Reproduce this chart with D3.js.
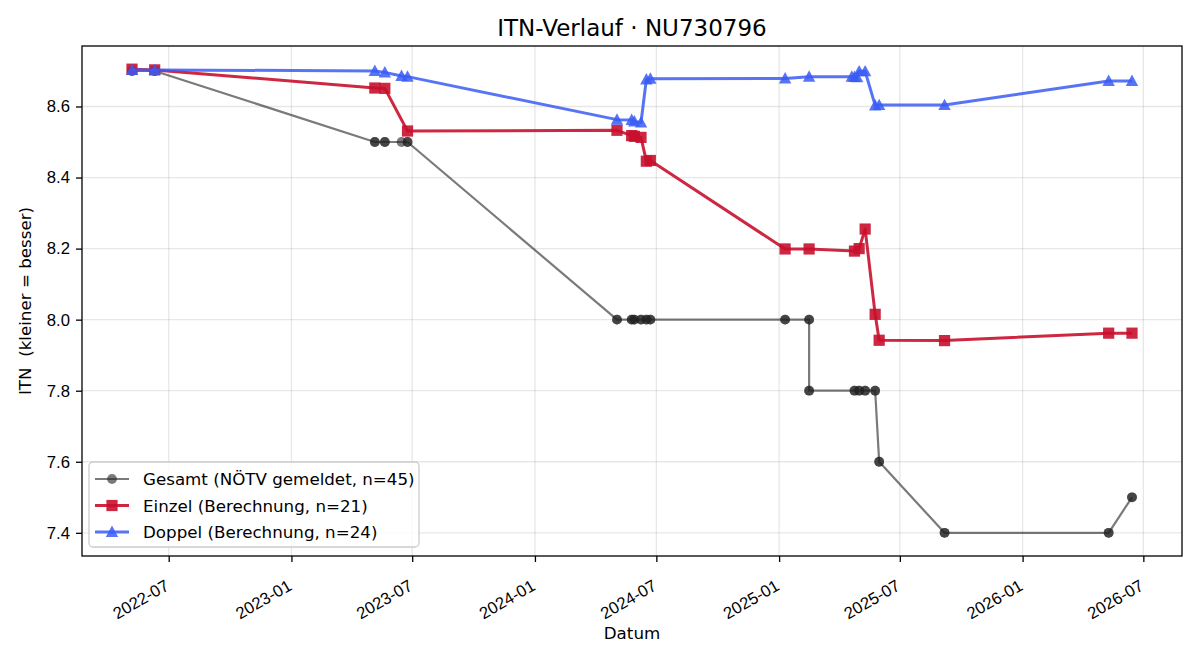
<!DOCTYPE html>
<html>
<head>
<meta charset="utf-8">
<script src="https://cdn.jsdelivr.net/npm/d3@7"></script>
<style>
    body { margin: 0; background: #fff; }
    svg { font-family: "DejaVu Sans", sans-serif; }
    .tick text { fill: #000; }
</style>
</head>
<body>
<svg id="vis" width="1200" height="660"></svg>
<script>
// ITN history chart, three series over time

const gesamtDates = [
    "2022-05-07", "2022-05-07", "2022-06-10", "2022-06-10",
    "2023-05-06", "2023-05-06", "2023-05-21", "2023-05-21", "2023-06-15", "2023-06-24", "2023-06-24",
    "2024-05-03", "2024-05-03", "2024-05-25", "2024-05-25", "2024-05-29", "2024-05-29",
    "2024-06-08", "2024-06-08", "2024-06-16", "2024-06-16", "2024-06-22", "2024-06-22",
    "2025-01-10", "2025-01-10", "2025-02-15", "2025-02-15", "2025-02-15", "2025-02-15",
    "2025-04-24", "2025-04-24", "2025-05-01", "2025-05-01",
    "2025-05-10", "2025-05-10", "2025-05-25", "2025-05-25", "2025-05-31", "2025-05-31",
    "2025-09-06", "2025-09-06", "2026-05-10", "2026-05-10", "2026-06-14", "2026-06-14"
];
const gesamtITN = [
    8.7, 8.7, 8.7, 8.7,
    8.5, 8.5, 8.5, 8.5, 8.5, 8.5, 8.5,
    8.0, 8.0, 8.0, 8.0, 8.0, 8.0,
    8.0, 8.0, 8.0, 8.0, 8.0, 8.0,
    8.0, 8.0, 8.0, 8.0, 7.8, 7.8,
    7.8, 7.8, 7.8, 7.8,
    7.8, 7.8, 7.8, 7.8, 7.6, 7.6,
    7.4, 7.4, 7.4, 7.4, 7.5, 7.5
];

const einzelDates = [
    "2022-05-07", "2022-06-10", "2023-05-06", "2023-05-21", "2023-06-24",
    "2024-05-03", "2024-05-25", "2024-05-29", "2024-06-08", "2024-06-16", "2024-06-22",
    "2025-01-10", "2025-02-15", "2025-04-24", "2025-05-01", "2025-05-10",
    "2025-05-25", "2025-05-31", "2025-09-06", "2026-05-10", "2026-06-14"
];
const einzelITN = [
    8.705, 8.703, 8.652, 8.651, 8.531,
    8.533, 8.518, 8.516, 8.513, 8.446, 8.448,
    8.199, 8.199, 8.193, 8.200, 8.255,
    8.015, 7.942, 7.941, 7.962, 7.962
];

const doppelDates = [
    "2022-05-07", "2022-06-10", "2023-05-06", "2023-05-21", "2023-06-15", "2023-06-24",
    "2024-05-03", "2024-05-25", "2024-05-29", "2024-06-08", "2024-06-16", "2024-06-22",
    "2025-01-10", "2025-02-15", "2025-04-20", "2025-04-24", "2025-04-28", "2025-05-01",
    "2025-05-10", "2025-05-25", "2025-05-31", "2025-09-06", "2026-05-10", "2026-06-14"
];
const doppelITN = [
    8.703, 8.703, 8.700, 8.696, 8.686, 8.684,
    8.563, 8.562, 8.558, 8.555, 8.676, 8.678,
    8.679, 8.684, 8.684, 8.683, 8.682, 8.699,
    8.699, 8.603, 8.604, 8.604, 8.672, 8.672
];

const yTicks = [7.4, 7.6, 7.8, 8.0, 8.2, 8.4, 8.6];
const seriesNames = [
    "Gesamt (NÖTV gemeldet, n=45)",
    "Einzel (Berechnung, n=21)",
    "Doppel (Berechnung, n=24)"
];

const parseDate = d3.utcParse("%Y-%m-%d");

function zipSeries(dates, values) {
    return dates.map(function (d, i) {
        return { date: parseDate(d), value: values[i] };
    });
}

const series = [
    { name: seriesNames[0], data: zipSeries(gesamtDates, gesamtITN), color: "#222222", alpha: 0.6, width: 2.2, marker: "circle" },
    { name: seriesNames[1], data: zipSeries(einzelDates, einzelITN), color: "#c8102e", alpha: 0.9, width: 3, marker: "square" },
    { name: seriesNames[2], data: zipSeries(doppelDates, doppelITN), color: "#3a5cf5", alpha: 0.85, width: 3, marker: "triangle" }
];

const svg = d3.select("#vis");
const margin = { left: 82, right: 18, top: 46, bottom: 104 };
const WIDTH = 1200, HEIGHT = 660;
const plotW = WIDTH - margin.left - margin.right;
const plotH = HEIGHT - margin.top - margin.bottom;

// domains padded 5% like matplotlib
const allPoints = series.flatMap(function (s) { return s.data; });
const xExt = d3.extent(allPoints, function (d) { return +d.date; });
const yExt = d3.extent(allPoints, function (d) { return d.value; });
const xPad = (xExt[1] - xExt[0]) * 0.05;
const yPad = (yExt[1] - yExt[0]) * 0.05;

const x = d3.scaleUtc()
    .domain([new Date(xExt[0] - xPad), new Date(xExt[1] + xPad)])
    .range([0, plotW]);
const y = d3.scaleLinear()
    .domain([yExt[0] - yPad, yExt[1] + yPad])
    .range([plotH, 0]);

const g = svg.append("g")
    .attr("transform", "translate(" + margin.left + "," + margin.top + ")");

const xTicks = x.ticks(d3.utcMonth.every(6));

// grid
g.append("g").selectAll("line")
    .data(xTicks)
    .enter().append("line")
    .attr("x1", function (d) { return x(d); })
    .attr("x2", function (d) { return x(d); })
    .attr("y1", 0).attr("y2", plotH)
    .attr("stroke", "#b0b0b0").attr("stroke-opacity", 0.3).attr("stroke-width", 1.3);
g.append("g").selectAll("line")
    .data(yTicks)
    .enter().append("line")
    .attr("y1", function (d) { return y(d); })
    .attr("y2", function (d) { return y(d); })
    .attr("x1", 0).attr("x2", plotW)
    .attr("stroke", "#b0b0b0").attr("stroke-opacity", 0.3).attr("stroke-width", 1.3);

// axes
const xAxis = g.append("g")
    .attr("transform", "translate(0," + plotH + ")")
    .call(d3.axisBottom(x).tickValues(xTicks).tickFormat(d3.utcFormat("%Y-%m")).tickSizeOuter(0).tickSize(6).tickPadding(0));
xAxis.select(".domain").remove();
xAxis.selectAll(".tick line").attr("stroke", "#000").attr("stroke-width", 1.3);
xAxis.selectAll(".tick text")
    .attr("font-size", "16.7px")
    .attr("text-anchor", "end")
    .attr("dy", null)
    .attr("y", null)
    .attr("transform", "translate(1,33) rotate(-30)");

const yAxis = g.append("g")
    .call(d3.axisLeft(y).tickValues(yTicks).tickFormat(d3.format(".1f")).tickSizeOuter(0).tickSize(6).tickPadding(6));
yAxis.select(".domain").remove();
yAxis.selectAll(".tick line").attr("stroke", "#000").attr("stroke-width", 1.3);
yAxis.selectAll(".tick text").attr("font-size", "16.7px");

// frame
g.append("rect")
    .attr("width", plotW).attr("height", plotH)
    .attr("fill", "none").attr("stroke", "#000").attr("stroke-width", 1.3);

// clip for marks
svg.append("defs").append("clipPath").attr("id", "clip")
    .append("rect").attr("width", plotW).attr("height", plotH);

const marks = g.append("g").attr("clip-path", "url(#clip)");

function markerPath(kind) {
    if (kind === "square") return "M-5.6,-5.6H5.6V5.6H-5.6Z";
    if (kind === "triangle") return "M0,-6.4L6.2,5L-6.2,5Z";
    return d3.symbol().type(d3.symbolCircle).size(Math.PI * 4.9 * 4.9)();
}

const line = d3.line()
    .x(function (d) { return x(d.date); })
    .y(function (d) { return y(d.value); });

series.forEach(function (s) {
    const sg = marks.append("g");
    sg.append("path")
        .datum(s.data)
        .attr("d", line)
        .attr("fill", "none")
        .attr("stroke", s.color)
        .attr("stroke-opacity", s.alpha)
        .attr("stroke-width", s.width)
        .attr("stroke-linejoin", "round");
    sg.selectAll(".pt")
        .data(s.data)
        .enter().append("path")
        .attr("class", "pt")
        .attr("d", markerPath(s.marker))
        .attr("transform", function (d) { return "translate(" + x(d.date) + "," + y(d.value) + ")"; })
        .attr("fill", s.color)
        .attr("opacity", s.alpha);
});

// title and labels
svg.append("text")
    .attr("x", margin.left + plotW / 2).attr("y", 36)
    .attr("text-anchor", "middle").attr("font-size", "23px")
    .text("ITN-Verlauf · NU730796");

svg.append("text")
    .attr("x", margin.left + plotW / 2).attr("y", 639)
    .attr("text-anchor", "middle").attr("font-size", "16.7px")
    .text("Datum");

svg.append("text")
    .attr("transform", "translate(31," + (margin.top + plotH / 2) + ") rotate(-90)")
    .attr("text-anchor", "middle").attr("font-size", "16.7px")
    .style("white-space", "pre")
    .text("ITN  (kleiner = besser)");

// legend
const legend = g.append("g").attr("transform", "translate(7," + (plotH - 94) + ")");
legend.append("rect")
    .attr("width", 330).attr("height", 85).attr("rx", 4)
    .attr("fill", "#fff").attr("fill-opacity", 0.8)
    .attr("stroke", "#cccccc").attr("stroke-width", 1.3);

series.forEach(function (s, i) {
    const row = legend.append("g").attr("transform", "translate(0," + (17 + i * 26.5) + ")");
    row.append("line")
        .attr("x1", 6).attr("x2", 40)
        .attr("stroke", s.color).attr("stroke-opacity", s.alpha)
        .attr("stroke-width", s.width);
    row.append("path")
        .attr("d", markerPath(s.marker))
        .attr("transform", "translate(23,0)")
        .attr("fill", s.color).attr("opacity", s.alpha);
    row.append("text")
        .attr("x", 54).attr("y", 6)
        .attr("font-size", "16.7px")
        .text(s.name);
});
</script>
</body>
</html>
